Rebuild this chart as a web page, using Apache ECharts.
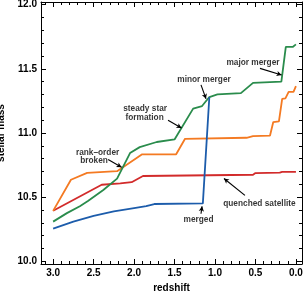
<!DOCTYPE html>
<html><head><meta charset="utf-8">
<script src="https://cdn.jsdelivr.net/npm/echarts@6/dist/echarts.min.js"></script>
<style>html,body{margin:0;padding:0;background:#fff}#c{width:305px;height:292px}</style>
</head><body><div id="c"></div>
<script>
// ---- data: [redshift, stellar mass] ----
const redLine = [[3.0,10.394],[2.40,10.597],[2.17,10.607],[2.03,10.617],[1.89,10.665],[0.53,10.675],[0.50,10.688],[0.20,10.692],[0.17,10.698],[0.0,10.698]];
const orangeLine = [[3.0,10.394],[2.78,10.636],[2.58,10.69],[2.21,10.703],[1.90,10.834],[1.48,10.834],[1.37,10.955],[0.61,10.963],[0.53,10.975],[0.32,10.98],[0.28,11.085],[0.21,11.09],[0.17,11.265],[0.13,11.27],[0.09,11.32],[0.03,11.32],[0.0,11.365]];
const greenLine = [[3.0,10.31],[2.83,10.376],[2.67,10.43],[2.57,10.47],[2.38,10.556],[2.21,10.645],[2.05,10.844],[1.93,10.89],[1.72,10.93],[1.50,10.95],[1.27,11.19],[1.16,11.21],[1.07,11.28],[0.97,11.30],[0.68,11.31],[0.53,11.39],[0.18,11.40],[0.125,11.67],[0.04,11.67],[0.0,11.69]];
const blueLine = [[3.0,10.255],[2.75,10.31],[2.5,10.355],[2.25,10.39],[2.0,10.415],[1.85,10.43],[1.75,10.447],[1.15,10.452],[1.07,11.28]];

const xMajorTicks = [0,0.5,1.0,1.5,2.0,2.5,3.0];
const xMinorTicks = [0,0.1,0.2,0.3,0.4,0.5,0.6,0.7,0.8,0.9,1.0,1.1,1.2,1.3,1.4,1.5,1.6,1.7,1.8,1.9,2.0,2.1,2.2,2.3,2.4,2.5,2.6,2.7,2.8,2.9,3.0,3.1];
const yMajorTicks = [10.0,10.5,11.0,11.5,12.0];
const yMinorTicks = [10.0,10.1,10.2,10.3,10.4,10.5,10.6,10.7,10.8,10.9,11.0,11.1,11.2,11.3,11.4,11.5,11.6,11.7,11.8,11.9,12.0];

// annotations: label text + position, arrows [from, to]
const annotationTexts = [
  {name:'major merger', value:[0.531,11.548]},
  {name:'minor merger', value:[1.136,11.413]},
  {name:'steady star', value:[1.864,11.189]},
  {name:'formation', value:[1.870,11.120]},
  {name:'rank\u2013order', value:[2.451,10.849]},
  {name:'broken', value:[2.494,10.788]},
  {name:'quenched satellite', value:[0.451,10.453]},
  {name:'merged', value:[1.204,10.324]}
];
const arrows = [
  [[0.444,11.503],[0.177,11.452]],
  [[1.173,11.375],[1.111,11.266]],
  [[1.580,11.100],[1.414,11.039]],
  [[2.321,10.793],[2.154,10.734]],
  [[0.630,10.514],[0.889,10.646]],
  [[1.173,10.371],[1.16,10.429]]
];

const XMIN=-0.075, XMAX=3.15, YMIN=9.98, YMAX=12.02;
const font='Liberation Sans';
function xAx(pos, major, labels){
  return {type:'value', position:pos, inverse:true, min:XMIN, max:XMAX,
    axisLine:{show:major, onZero:false, lineStyle:{color:'#000',width:1}},
    axisTick:{show:true, inside:true, length:major?5:3, customValues: major?xMajorTicks:xMinorTicks, lineStyle:{color:'#000',width:1}},
    axisLabel:{show:labels, customValues:xMajorTicks, formatter:v=>v.toFixed(1), color:'#000', fontSize:10, fontWeight:'bold', fontFamily:font, margin:4},
    splitLine:{show:false},
    name: labels?'redshift':'', nameLocation:'middle', nameGap:17,
    nameTextStyle:{color:'#000', fontSize:10, fontWeight:'bold', fontFamily:font}
  };
}
function yAx(pos, major, labels){
  return {type:'value', position:pos, min:YMIN, max:YMAX,
    axisLine:{show:major, onZero:false, lineStyle:{color:'#000',width:1}},
    axisTick:{show:true, inside:true, length:major?5:3, customValues: major?yMajorTicks:yMinorTicks, lineStyle:{color:'#000',width:1}},
    axisLabel:{show:labels, customValues:yMajorTicks, formatter:v=>v.toFixed(1), color:'#000', fontSize:10, fontWeight:'bold', fontFamily:font, margin:4},
    splitLine:{show:false},
    name: labels?'stellar mass':'', nameLocation:'middle', nameGap:24,
    nameTextStyle:{color:'#000', fontSize:10, fontWeight:'bold', fontFamily:font}
  };
}
function line(data,color){
  return {type:'line', data:data, xAxisIndex:0, yAxisIndex:0, symbol:'none', silent:true,
    lineStyle:{color:color,width:1.8}, itemStyle:{color:color}, animation:false};
}
const chart = echarts.init(document.getElementById('c'), null, {renderer:'canvas'});
chart.setOption({
  animation:false,
  grid:{left:41, right:3, top:2, bottom:28, containLabel:false, outerBoundsMode:'none'},
  xAxis:[xAx('bottom',true,true), xAx('bottom',false,false), xAx('top',true,false), xAx('top',false,false)],
  yAxis:[yAx('left',true,true), yAx('left',false,false), yAx('right',true,false), yAx('right',false,false)],
  series:[
    line(redLine,'#d22b2b'),
    line(orangeLine,'#f47a22'),
    line(greenLine,'#2a8c4c'),
    line(blueLine,'#1c5cab'),
    {type:'scatter', xAxisIndex:0, yAxisIndex:0, symbolSize:1, silent:true,
     itemStyle:{color:'rgba(0,0,0,0)'},
     data:annotationTexts,
     label:{show:true, position:'inside', formatter:p=>p.name, color:'#000', fontSize:8.3, fontWeight:'bold', fontFamily:font, align:'center'},
     markLine:{silent:true, symbol:['none','arrow'], symbolSize:[4,5], animation:false,
       lineStyle:{color:'#000', width:1.1, type:'solid'}, label:{show:false},
       data: arrows.map(a=>[{coord:a[0]},{coord:a[1]}])}
    }
  ]
});
</script></body></html>
